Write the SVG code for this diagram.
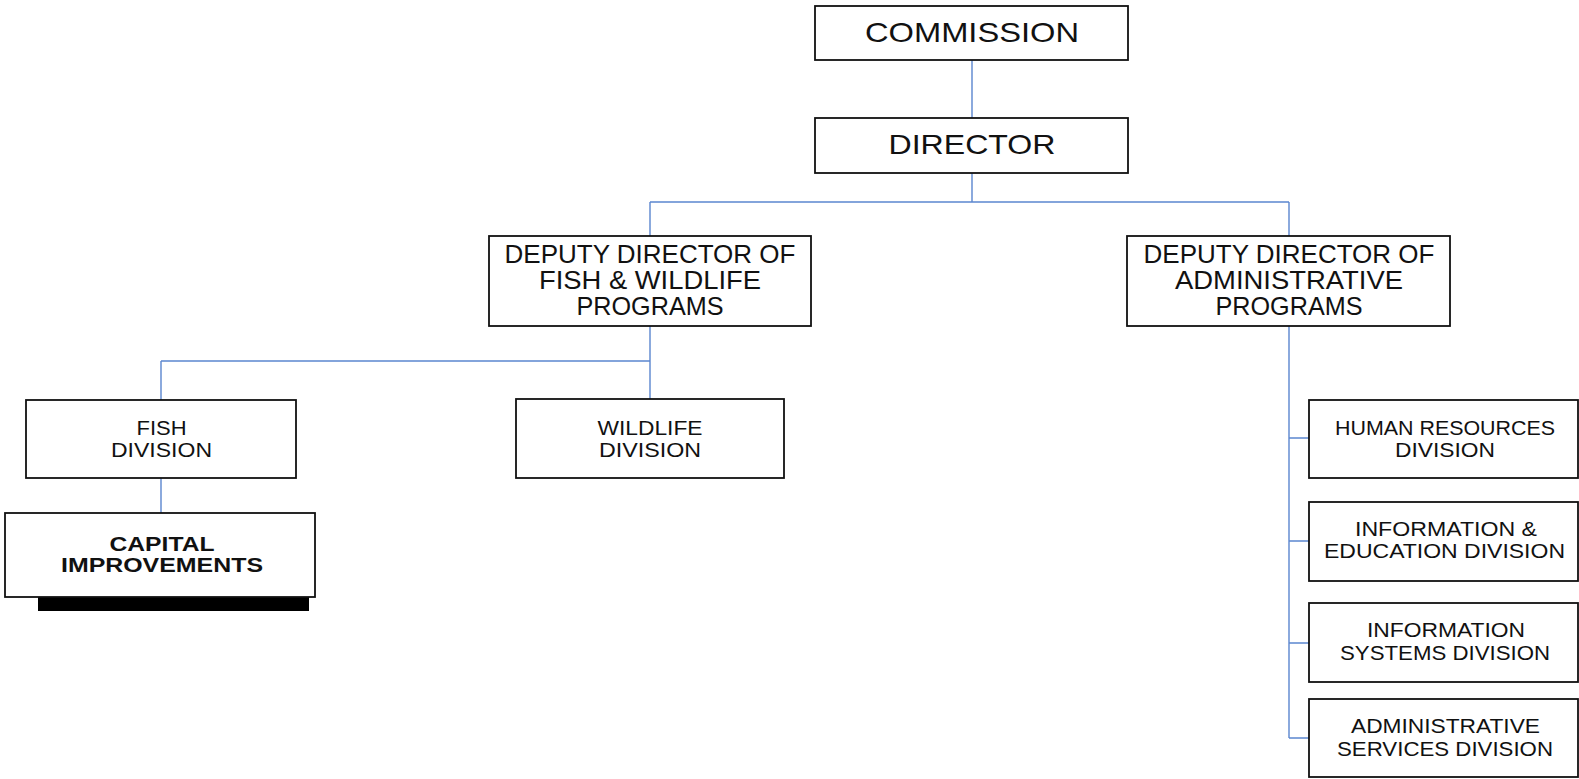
<svg xmlns="http://www.w3.org/2000/svg" width="1579" height="779" viewBox="0 0 1579 779">
<style>
.box{fill:#fff;stroke:#111;stroke-width:1.8}
.t{font-family:"Liberation Sans",Arial,sans-serif;fill:#111;text-anchor:middle}
.big{font-size:28px}
.mid{font-size:25px}
.sm{font-size:20px}
.b{font-weight:bold;font-size:21px}
.c{fill:none;stroke:#5b86cf;stroke-width:1.4}
</style>
<rect width="1579" height="779" fill="#fff"/>
<g id="connectors">
<path class="c" d="M972 60V118M972 173V202M650 202H1289M650 202V236M1289 202V236"/>
<path class="c" d="M650 326V399M161 361H650M161 361V400M161 478V513"/>
<path class="c" d="M1289 326V738M1289 438H1309M1289 541H1309M1289 643H1309M1289 738H1309"/>
</g>
<g id="commission">
<rect class="box" x="815" y="6" width="313" height="54"/>
<text class="t big" x="972" y="41.5" textLength="214" lengthAdjust="spacingAndGlyphs">COMMISSION</text>
</g>
<g id="director">
<rect class="box" x="815" y="118" width="313" height="55"/>
<text class="t big" x="972" y="154" textLength="167" lengthAdjust="spacingAndGlyphs">DIRECTOR</text>
</g>
<g id="dd-fish-wildlife">
<rect class="box" x="489" y="236" width="322" height="90"/>
<text class="t mid" x="650" y="263" textLength="291" lengthAdjust="spacingAndGlyphs">DEPUTY DIRECTOR OF</text>
<text class="t mid" x="650" y="289" textLength="222" lengthAdjust="spacingAndGlyphs">FISH &amp; WILDLIFE</text>
<text class="t mid" x="650" y="315" textLength="147" lengthAdjust="spacingAndGlyphs">PROGRAMS</text>
</g>
<g id="dd-admin">
<rect class="box" x="1127" y="236" width="323" height="90"/>
<text class="t mid" x="1289" y="263" textLength="291" lengthAdjust="spacingAndGlyphs">DEPUTY DIRECTOR OF</text>
<text class="t mid" x="1289" y="289" textLength="228" lengthAdjust="spacingAndGlyphs">ADMINISTRATIVE</text>
<text class="t mid" x="1289" y="315" textLength="147" lengthAdjust="spacingAndGlyphs">PROGRAMS</text>
</g>
<g id="fish">
<rect class="box" x="26" y="400" width="270" height="78"/>
<text class="t sm" x="161.5" y="435" textLength="50" lengthAdjust="spacingAndGlyphs">FISH</text>
<text class="t sm" x="161.5" y="457" textLength="101" lengthAdjust="spacingAndGlyphs">DIVISION</text>
</g>
<g id="wildlife">
<rect class="box" x="516" y="399" width="268" height="79"/>
<text class="t sm" x="650" y="435" textLength="105" lengthAdjust="spacingAndGlyphs">WILDLIFE</text>
<text class="t sm" x="650" y="457" textLength="102" lengthAdjust="spacingAndGlyphs">DIVISION</text>
</g>
<g id="capital">
<rect x="38" y="597" width="271" height="14" fill="#000"/>
<rect class="box" x="5" y="513" width="310" height="84"/>
<text class="t b" x="162" y="550.5" textLength="105" lengthAdjust="spacingAndGlyphs">CAPITAL</text>
<text class="t b" x="162" y="572" textLength="202" lengthAdjust="spacingAndGlyphs">IMPROVEMENTS</text>
</g>
<g id="hr">
<rect class="box" x="1309" y="400" width="269" height="78"/>
<text class="t sm" x="1445" y="435" textLength="220" lengthAdjust="spacingAndGlyphs">HUMAN RESOURCES</text>
<text class="t sm" x="1445" y="457" textLength="100" lengthAdjust="spacingAndGlyphs">DIVISION</text>
</g>
<g id="info-education">
<rect class="box" x="1309" y="502" width="269" height="79"/>
<text class="t sm" x="1446" y="536" textLength="182" lengthAdjust="spacingAndGlyphs">INFORMATION &amp;</text>
<text class="t sm" x="1444.5" y="558" textLength="241" lengthAdjust="spacingAndGlyphs">EDUCATION DIVISION</text>
</g>
<g id="info-systems">
<rect class="box" x="1309" y="603" width="269" height="79"/>
<text class="t sm" x="1446" y="637" textLength="158" lengthAdjust="spacingAndGlyphs">INFORMATION</text>
<text class="t sm" x="1445" y="660" textLength="210" lengthAdjust="spacingAndGlyphs">SYSTEMS DIVISION</text>
</g>
<g id="admin-services">
<rect class="box" x="1309" y="699" width="269" height="78"/>
<text class="t sm" x="1445.5" y="733" textLength="189" lengthAdjust="spacingAndGlyphs">ADMINISTRATIVE</text>
<text class="t sm" x="1445" y="756" textLength="216" lengthAdjust="spacingAndGlyphs">SERVICES DIVISION</text>
</g>
</svg>
